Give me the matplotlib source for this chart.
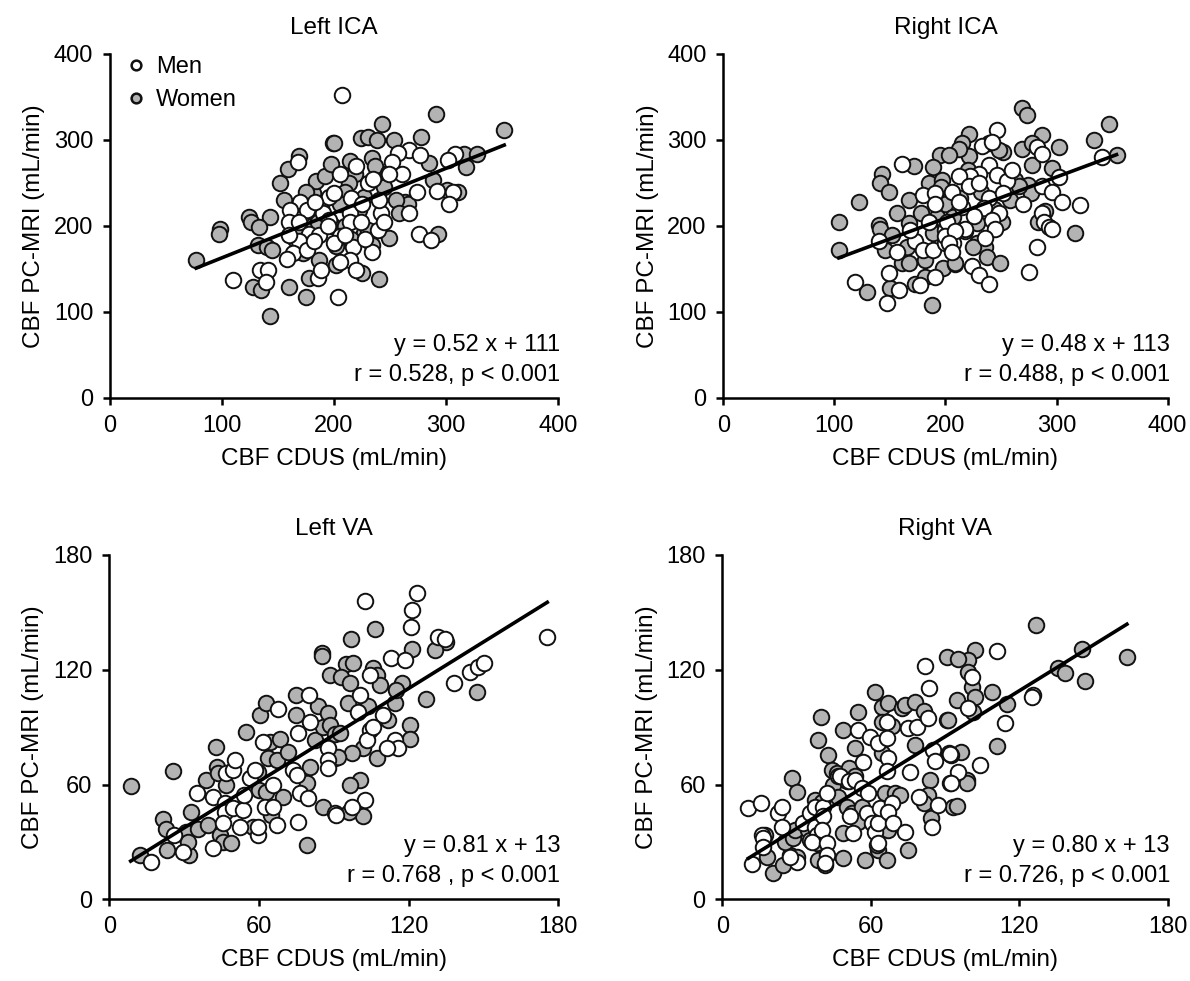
import numpy as np
import matplotlib
matplotlib.use("Agg")
import matplotlib.pyplot as plt
from matplotlib.lines import Line2D

plt.rcParams['font.family'] = ['Liberation Sans', 'DejaVu Sans']

# ---- Left ICA ----
lica_men_x = [110, 134, 141, 139, 186, 204, 170, 161, 176, 160, 169, 178, 169, 163, 176, 158, 188, 196, 168, 207,
              267, 277, 257, 308, 302, 252, 261, 249, 205, 292, 306, 303, 274, 267, 242, 215, 214, 276, 287, 239,
              214, 224, 205, 217, 234, 214, 205, 220, 200, 187, 230, 240, 190,
              196, 195, 210, 225, 235, 182, 200, 220, 160, 245, 228, 183]
lica_men_y = [137, 149, 149, 135, 140, 118, 228, 219, 219, 205, 205, 191, 182, 168, 172, 162, 149, 234, 274, 352,
              288, 283, 285, 284, 277, 274, 260, 260, 261, 241, 240, 226, 240, 215, 215, 232, 215, 191, 184, 195,
              205, 205, 188, 176, 170, 160, 158, 149, 180, 190, 250, 230, 215,
              207, 200, 190, 225, 255, 182, 238, 270, 190, 205, 185, 228]
lica_women_x = [77, 98, 97, 124, 126, 132, 128, 135, 143, 160, 175, 178, 152, 159, 169, 155, 143, 133, 140, 145,
                172, 181, 184, 192, 197, 199, 188, 187, 291, 352, 243, 224, 230, 238, 254, 278, 200, 316, 328, 318,
                285, 234, 237, 214, 219, 213, 288, 301, 311, 263, 266, 227, 293, 249, 227, 234, 202, 225, 202, 240,
                180, 165, 210, 195,
                199, 205, 210, 222, 230, 245, 255, 186, 175, 215, 248, 170, 258]
lica_women_y = [160, 196, 191, 211, 205, 178, 129, 126, 95, 129, 118, 140, 250, 266, 281, 230, 211, 199, 176, 172,
                168, 238, 252, 258, 272, 296, 222, 160, 330, 312, 319, 302, 304, 300, 300, 303, 296, 284, 284, 269,
                273, 279, 270, 275, 261, 250, 253, 242, 240, 228, 225, 234, 191, 186, 192, 178, 177, 145, 155, 138,
                200, 185, 240, 205,
                200, 225, 200, 218, 195, 245, 230, 205, 240, 185, 262, 195, 215]

# ---- Right ICA ----
rica_men_x = [119, 161, 140, 156, 173, 180, 189, 149, 158, 147, 177, 191, 180, 191, 191, 200, 200, 207, 341, 246,
              233, 242, 282, 287, 302, 239, 230, 246, 255, 222, 212, 221, 230, 206, 287, 296, 305, 321, 270, 239,
              235, 248, 242, 218, 245, 201, 200, 209, 287, 289, 293, 296, 282, 275, 224, 230, 239, 203, 206,
              215, 226, 252, 260, 185, 168, 212, 236]
rica_men_y = [135, 272, 182, 170, 182, 172, 172, 145, 126, 110, 131, 141, 236, 238, 226, 180, 195, 180, 280, 312,
              293, 298, 292, 284, 257, 271, 261, 259, 252, 258, 258, 246, 250, 240, 246, 240, 228, 224, 226, 232,
              221, 215, 207, 197, 197, 205, 188, 194, 215, 205, 199, 197, 176, 147, 153, 143, 133, 180, 170,
              222, 212, 238, 265, 205, 195, 228, 186]
rica_women_x = [104, 104, 129, 122, 143, 141, 149, 172, 195, 189, 167, 156, 167, 140, 141, 152, 146, 161, 167, 165,
                182, 189, 150, 173, 182, 188, 185, 197, 203, 200, 192, 198, 209, 269, 273, 347, 334, 354, 221, 215,
                287, 302, 269, 278, 239, 252, 248, 221, 212, 203, 296, 278, 263, 274, 277, 266, 251, 228, 210, 218,
                207, 283, 290, 317, 228, 236, 237, 249, 209,
                213, 220, 232, 244, 258, 196, 178, 225]
rica_women_y = [205, 172, 123, 228, 261, 250, 240, 270, 283, 268, 230, 215, 204, 201, 196, 190, 172, 157, 157, 175,
                160, 192, 128, 133, 141, 108, 250, 254, 235, 225, 211, 151, 156, 337, 329, 319, 300, 283, 307, 296,
                306, 292, 290, 296, 296, 286, 288, 281, 289, 283, 267, 271, 253, 248, 238, 246, 205, 203, 195, 194,
                211, 205, 217, 192, 180, 176, 164, 157, 157,
                232, 265, 240, 220, 230, 245, 215, 175]

# ---- Left VA ----
lva_men_x = [16.6, 26, 29.7, 35, 41.7, 47, 49.7, 50.4, 46.4, 46.4, 45.7, 41.7, 49.7, 53.7, 52.4, 54.1, 56.4, 58.4,
             59.7, 59.7, 67.7, 61.7, 65.7, 62.4, 65.7, 67.1, 80.2, 80.4, 75.8, 73.8, 75.1, 76.4, 75.8, 79.8, 87.8,
             87.8, 87.8, 90.5, 102.5, 123.4, 121.2, 121, 131.9, 134.6, 175.6, 112.8, 118.5, 138.2, 144.6, 147.9,
             150.2, 104.5, 100.5, 99.8, 109.8, 104.5, 103.2, 114.5, 115.8, 111.2, 105.9, 102.5, 97.2, 91.1]
lva_men_y = [19.7, 33.6, 24.9, 55.4, 53.7, 66, 67.6, 72.9, 50.2, 45.8, 39.7, 26.7, 47.6, 46.7, 38, 54.5, 63.3, 67.7,
             33.6, 38, 99.4, 82.4, 59.8, 48.4, 48.4, 38.9, 106.8, 92.9, 86.8, 67.6, 65, 55.4, 40.6, 52.8, 79,
             73, 68.7, 45, 155.7, 160, 151, 142.3, 137, 136, 137, 126, 125.1, 113, 119, 121.3,
             123.4, 117.3, 106.8, 98.1, 96.4, 88.5, 83.3, 83.3, 79, 79, 90.3, 51.9, 48.4, 44.1]
lva_women_x = [8.6, 12.3, 25.4, 21.6, 22.7, 23, 30.7, 32, 31.7, 32.6, 35.7, 38.8, 39.7, 42.8, 43.3, 43.7, 47, 44.4,
               45.7, 49, 54.8, 59.7, 60.1, 57.7, 60.4, 63, 64.4, 68.4, 63.7, 67.1, 63, 69.7, 65, 71.7, 75, 75,
               79.1, 79.1, 80.4, 82.4, 83.8, 87.8, 88.5, 85.1, 85.1, 85.8, 88.5, 90.5, 85.8, 90.5, 106.5, 96.8,
               135.2, 130.6, 121.2, 147.3, 126.8, 94.9, 97.8, 93.1, 96.5, 105.9, 107.2, 108.6, 117.2, 95.8, 103.8,
               114.5, 115.1, 111.9, 120.6, 120.6, 107.2, 101.8, 97.2, 92.5, 91.8, 100.5, 96.5, 101.8, 96.2]
lva_women_y = [59, 23, 67, 42, 37, 25.8, 35, 23, 30, 45.8, 37, 62.4, 38.9, 79.8, 69.4, 66, 59.8, 33.6,
               30, 29.4, 87.7, 66.7, 57, 38, 96.4, 102.5, 82, 83.8, 73.7, 72.9, 56.3, 53.7, 44, 77.2, 106.8, 96.4,
               60.7, 28.4, 69.4, 83.3, 101.1, 97.6, 117.3, 128.7, 127.3, 90.3, 91.1, 86.5, 48.4, 74, 141.2, 136,
               134.7, 130.4, 130.7, 108.6, 104.6, 123, 123.4, 116.4, 113, 120.8, 117.3, 112, 112.9, 102.5, 100.8,
               102.5, 109.5, 93.8, 91.2, 83.6, 73.7, 79, 76.4, 86.8, 74.6, 62.4, 59.8, 43.6, 45.6]

# ---- Right VA ----
rva_men_x = [10.5, 15.6, 11.9, 15.9, 16.6, 16.6, 30.1, 27.4, 22.6, 24, 24, 32.7, 35.5, 37.5, 38.1, 36.1, 37.5, 40.8,
             40.8, 40.2, 42.2, 42.2, 41.5, 42.2, 46.9, 50.3, 55, 59.7, 63, 57, 47.6, 51, 53.6, 56.3, 59, 51.6,
             52.9, 58.3, 60.4, 61.7, 63, 63, 66.4, 66.4, 67.1, 66.4, 75.2, 78.6, 75.9, 63.7, 68.5, 67.1, 69.1,
             73.8, 81.9, 83.6, 83.3, 85.3, 86, 91.4, 92.1, 79.3, 87.3, 84.6, 110.9, 100.8, 99.4, 114.3, 125.7,
             125.3, 104.2, 91.9, 95.4, 92.5]
rva_men_y = [47.6, 50.2, 18.5, 33.6, 32, 27.5, 19.6, 22.3, 45, 48.4, 38, 39.7, 45, 38, 33.6, 30.1, 48.4, 48.4,
             43.6, 36.2, 29.3, 23.2, 18.9, 55.4, 64.2, 61.7, 88.5, 85, 81.6, 72, 64.2, 61.7, 62.4, 58, 55.4, 43.6,
             34.5, 45, 39.7, 35.3, 29.3, 39.7, 92.9, 84.2, 73.7, 66.8, 89.4, 90.3, 66.7, 47.6, 50.2, 45.6, 39.7,
             35.3, 122, 110.7, 94.7, 78.1, 72.3, 76.4, 60.7, 53.7, 49.3, 38, 129.9, 116.4, 99.9, 92, 106.8,
             105.5, 70.2, 76.2, 66.7, 60.7]
rva_women_x = [17.2, 17.9, 20.6, 24.7, 27.4, 30.1, 25.3, 28.7, 29.4, 28.3, 30.1, 34.8, 35.5, 38.1, 37.5, 40.2, 38.8,
               39.9, 38.8, 41.5, 42.8, 44.2, 46.2, 44.9, 46.9, 48.9, 48.9, 48.9, 54.7, 53.6, 51, 53.6, 50.3, 52.3,
               56.3, 55, 57.7, 63, 62.4, 66.4, 61.7, 64.4, 67.1, 72.5, 73.8, 77.9, 81.3, 77.9, 68.5, 64.4, 64.4,
               65.7, 69.8, 71.8, 67.1, 75.2, 90.7, 90.7, 84, 83.3, 81.3, 93.4, 84.4, 126.7, 102.1, 99.4, 95.4, 99.4,
               100.8, 102.1, 101.4, 108.9, 94.7, 91.1, 115, 135.8, 138.5, 145.3, 146.6, 163.5, 110.9, 96.5, 92.5,
               98.8, 98.8, 94.7]
rva_women_y = [33.6, 22.3, 13.6, 17.9, 23.2, 22.3, 30.1, 32, 36.2, 63.3, 56.3, 36.2, 30.9, 29.4, 51.9, 51, 83.3,
               95.5, 20.6, 18, 75.5, 67.6, 66, 59.8, 53.7, 88.5, 34.5, 21.4, 98.1, 79, 68.5, 64.2, 48.4, 45,
               48.4, 40.6, 20.6, 25.8, 28.4, 20.6, 108.6, 100.7, 102.5, 99.8, 101.6, 103.2, 98.6, 80.7, 90.7, 92.5, 76.4,
               55.4, 55.4, 54.6, 36.3, 25.8, 126.6, 93.8, 62.4, 54.6, 50.2, 48.4, 42.3, 143.3, 130.4, 125.2, 125.5, 119,
               111.2, 106, 98.1, 108.1, 104.2, 93.8, 102.1, 121.1, 118.2, 130.8, 114.3, 126.9, 80.2, 77.2, 75.5,
               62.4, 60.9, 48.8]

titles = ["Left ICA", "Right ICA", "Left VA", "Right VA"]
slopes = [0.52, 0.48, 0.81, 0.80]
intercepts = [111, 113, 13, 13]
eq_text = ["y = 0.52 x + 111", "y = 0.48 x + 113", "y = 0.81 x + 13", "y = 0.80 x + 13"]
r_text = ["r = 0.528, p < 0.001", "r = 0.488, p < 0.001", "r = 0.768 , p < 0.001", "r = 0.726, p < 0.001"]
axis_max = [400, 400, 180, 180]
tick_step = [100, 100, 60, 60]

panels = [
    (lica_men_x, lica_men_y, lica_women_x, lica_women_y),
    (rica_men_x, rica_men_y, rica_women_x, rica_women_y),
    (lva_men_x, lva_men_y, lva_women_x, lva_women_y),
    (rva_men_x, rva_men_y, rva_women_x, rva_women_y),
]

positions = [
    [0.0924, 0.5943, 0.3765, 0.3507],
    [0.6078, 0.5943, 0.3734, 0.3507],
    [0.0918, 0.0833, 0.3773, 0.3510],
    [0.6070, 0.0833, 0.3743, 0.3510],
]

GRAY = "#b3b3b3"
EDGE = "#111111"

fig = plt.figure(figsize=(11.9, 9.81), dpi=100)

for i, (mx, my, wx, wy) in enumerate(panels):
    ax = fig.add_axes(positions[i])
    ax.scatter(wx, wy, s=125, c=GRAY, edgecolors=EDGE, linewidths=1.4, zorder=2)
    ax.scatter(mx, my, s=125, c="white", edgecolors=EDGE, linewidths=1.4, zorder=3)

    # regression line over the data range, from the printed equation
    allx = np.array(list(mx) + list(wx))
    xs = np.array([allx.min(), allx.max()])
    ax.plot(xs, slopes[i] * xs + intercepts[i], color="black", lw=2.6, zorder=4)

    ax.set_xlim(0, axis_max[i])
    ax.set_ylim(0, axis_max[i])
    ticks = np.arange(0, axis_max[i] + 1, tick_step[i])
    ax.set_xticks(ticks)
    ax.set_yticks(ticks)
    for s in ["top", "right"]:
        ax.spines[s].set_visible(False)
    for s in ["left", "bottom"]:
        ax.spines[s].set_linewidth(1.8)
    ax.tick_params(direction="out", length=5, width=1.8, labelsize=17, pad=7)

    ax.set_xlabel("CBF CDUS (mL/min)", fontsize=17.5)
    ax.set_ylabel("CBF PC-MRI (mL/min)", fontsize=17.5)
    ax.xaxis.set_label_coords(0.5, -0.145)
    ax.yaxis.set_label_coords(-0.145, 0.5)

    ax.text(0.5, 1.075, titles[i], transform=ax.transAxes, ha="center", va="center", fontsize=17.5)
    ax.text(1.005, 0.155, eq_text[i], transform=ax.transAxes, ha="right", va="center", fontsize=17)
    ax.text(1.005, 0.068, r_text[i], transform=ax.transAxes, ha="right", va="center", fontsize=17)

    if i == 0:
        handles = [
            Line2D([], [], ls="none", marker="o", ms=7, mfc="white", mec=EDGE, mew=1.8),
            Line2D([], [], ls="none", marker="o", ms=7, mfc=GRAY, mec=EDGE, mew=1.8),
        ]
        ax.legend(handles, ["Men", "Women"], loc="upper left", bbox_to_anchor=(-0.015, 1.055),
                  frameon=False, fontsize=17, handletextpad=0.35, labelspacing=0.45, handlelength=1.0)

fig.savefig("out.png", dpi=100)
